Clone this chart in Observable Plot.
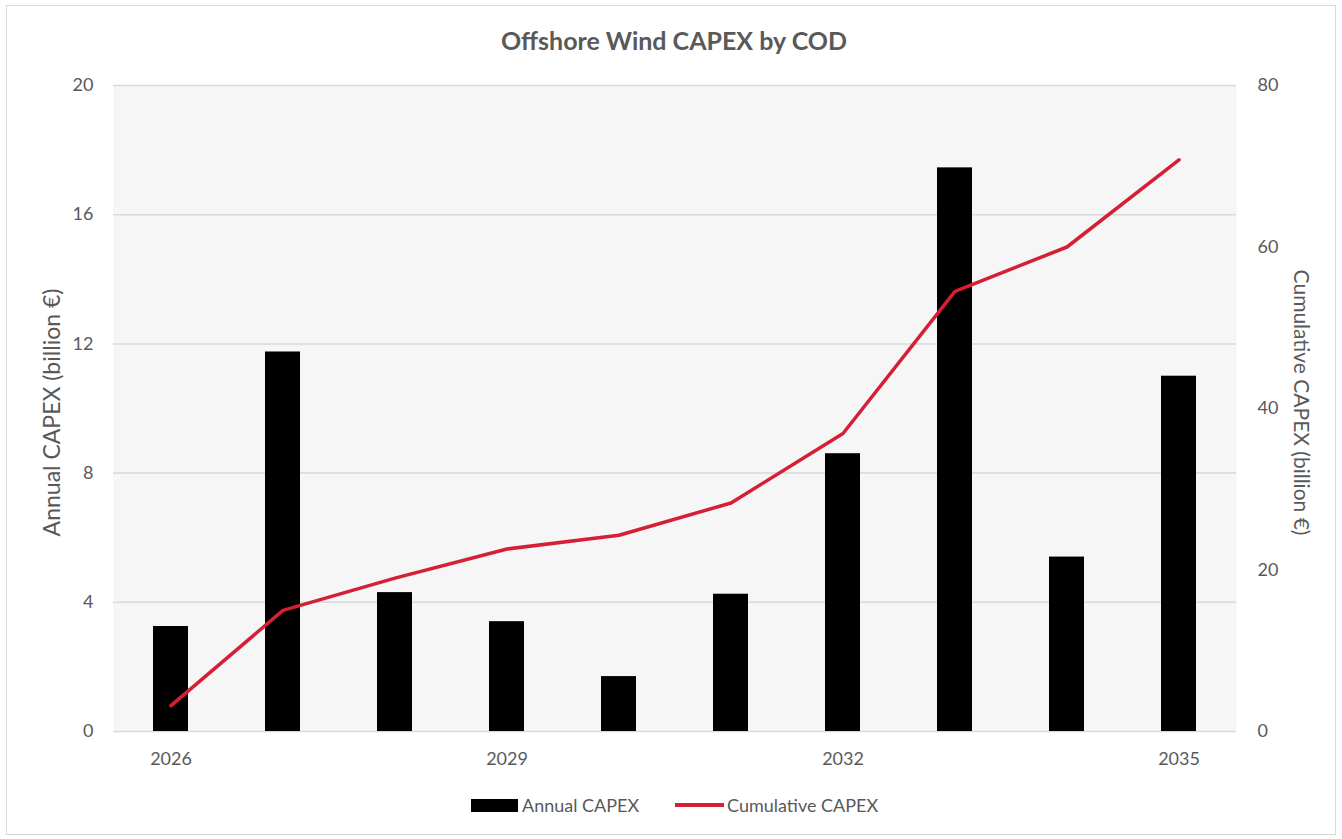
<!DOCTYPE html>
<html>
<head>
<meta charset="utf-8">
<script src="https://cdn.jsdelivr.net/npm/d3@7"></script>
<script src="https://cdn.jsdelivr.net/npm/@observablehq/plot@0.6"></script>
<style>
  html, body { margin: 0; padding: 0; background: #fff; }
  #wrap { position: relative; width: 1342px; height: 839px; overflow: hidden; font-family: Lato, "Open Sans", sans-serif; color: #595959; }
  #border { position: absolute; left: 6px; top: 5px; width: 1330px; height: 830px; border: 1px solid #d9d9d9; box-sizing: border-box; }
  #title { position: absolute; left: 0; width: 1348px; top: 25px; text-align: center; font-weight: bold; font-size: 25px; color: #595959; }
  #chart { position: absolute; left: 0; top: 60px; }
  #legend { position: absolute; top: 793px; left: 0; width: 1342px; height: 24px; font-size: 18px; color: #595959; }
  .lg { position: absolute; top: 0; display: flex; align-items: center; height: 24px; }
  .sw-bar { width: 47px; height: 13px; background: #000; }
  .sw-line { width: 49px; height: 3.5px; background: #d51f35; }
</style>
</head>
<body>
<div id="wrap">
  <div id="border"></div>
  <div id="title">Offshore Wind CAPEX by COD</div>
  <div id="chart"></div>
  <div id="legend">
    <div class="lg" style="left:471px"><div class="sw-bar"></div><span style="margin-left:4px">Annual CAPEX</span></div>
    <div class="lg" style="left:675px"><div class="sw-line"></div><span style="margin-left:3px">Cumulative CAPEX</span></div>
  </div>
</div>
<script>
const years = [2026, 2027, 2028, 2029, 2030, 2031, 2032, 2033, 2034, 2035];
const annualCapex = [3.25, 11.75, 4.3, 3.4, 1.7, 4.25, 8.6, 17.45, 5.4, 11.0];
const cumulativeCapex = [3.2, 15.0, 19.0, 22.6, 24.3, 28.3, 36.9, 54.5, 60.0, 70.8];
const leftTicks = [0, 4, 8, 12, 16, 20];
const rightTicks = [0, 20, 40, 60, 80];
const xTicks = [2026, 2029, 2032, 2035];

const ratio = 80 / 20; // right axis max / left axis max
const data = years.map((year, i) => ({ year, annual: annualCapex[i], cum: cumulativeCapex[i] }));

const textColor = "#595959";
const chart = Plot.plot({
  width: 1342,
  height: 721,
  marginLeft: 113,
  marginRight: 106,
  marginTop: 25,
  marginBottom: 50,
  style: { fontFamily: "Lato, 'Open Sans', sans-serif", fontSize: "18px", color: textColor, background: "transparent" },
  x: { type: "band", domain: years, paddingInner: 0.69, paddingOuter: 0.345 },
  y: { domain: [0, 20] },
  marks: [
    Plot.frame({ fill: "#f6f6f6", stroke: null }),
    Plot.gridY(leftTicks, { stroke: "#d9d9d9", strokeOpacity: 1, strokeWidth: 1.5 }),
    Plot.barY(data, { x: "year", y: "annual", fill: "#000" }),
    Plot.line(data, { x: "year", y: d => d.cum / ratio, stroke: "#d51f35", strokeWidth: 3.5 }),
    Plot.axisX({ ticks: xTicks, tickSize: 0, tickPadding: 21, tickFormat: d => String(d), label: null, fill: textColor }),
    Plot.axisY({ anchor: "left", ticks: leftTicks, tickSize: 0, tickPadding: 20, label: null, fill: textColor }),
    Plot.axisY({ anchor: "right", ticks: rightTicks.map(v => v / ratio), tickSize: 0, tickPadding: 21, tickFormat: v => String(v * ratio), label: null, fill: textColor }),
    Plot.text(["Annual CAPEX (billion €)"], { frameAnchor: "left", textAnchor: "middle", dx: -61, dy: 4, rotate: -90, fill: textColor, fontSize: 23 }),
    Plot.text(["Cumulative CAPEX (billion €)"], { frameAnchor: "right", textAnchor: "middle", dx: 64, dy: -6, rotate: 90, fill: textColor, fontSize: 21 })
  ]
});
document.getElementById("chart").appendChild(chart);
</script>
</body>
</html>
